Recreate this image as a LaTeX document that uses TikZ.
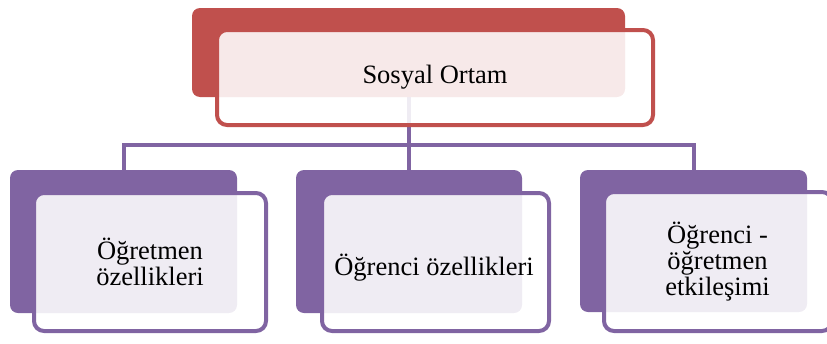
\documentclass[tikz,border=0pt]{standalone}
\usepackage{fontspec}
\setmainfont{Liberation Serif}
\definecolor{redc}{HTML}{C0504D}
\definecolor{purc}{HTML}{8064A2}
\begin{document}
\begin{tikzpicture}[x=1pt,y=-1pt,
  back/.style={rectangle, rounded corners=8pt, inner sep=0pt, outer sep=0pt, anchor=north west},
  front/.style={rectangle, rounded corners=10pt, inner sep=0pt, outer sep=0pt, anchor=north west,
    line width=4pt, fill=white, fill opacity=0.88},
  txt/.style={align=center, text=black, font=\fontsize{26.5}{26}\selectfont},
  conn/.style={draw=purc, line width=4pt}]
\useasboundingbox (0,0) rectangle (827,343);

% back panels (named first so the connectors can attach to them)
\coordinate (bus) at (0,145);
\node[back, minimum width=433pt, minimum height=89pt] (topback) at (192,8) {};
\node[back, minimum width=227pt, minimum height=143pt] (leftback) at (10,170) {};
\node[back, minimum width=226pt, minimum height=143pt] (midback) at (296,170) {};
\node[back, minimum width=227pt, minimum height=142pt] (rightback) at (580,170) {};

% connectors (drawn below the boxes)
\draw[conn] (topback.south) -- (topback.south |- bus);
\draw[conn] (leftback.north) |- (rightback.north |- bus) -- (rightback.north);
\draw[conn] (midback.north) -- (midback.north |- bus);

% top box
\fill[redc, rounded corners=8pt] (topback.north west) rectangle (topback.south east);
\node[front, draw=redc, minimum width=436pt, minimum height=95pt] (topfront) at (217,30) {};
\node[txt, anchor=base] (toptext) at ([yshift=-5.5pt]topfront.center) {Sosyal Ortam};

% left box
\fill[purc, rounded corners=8pt] (leftback.north west) rectangle (leftback.south east);
\node[front, draw=purc, minimum width=232pt, minimum height=138pt] (leftfront) at (34,193) {};
\node[txt] (lefttext) at (leftfront.center) {Öğretmen\\özellikleri};

% middle box
\fill[purc, rounded corners=8pt] (midback.north west) rectangle (midback.south east);
\node[front, draw=purc, minimum width=227pt, minimum height=138pt] (midfront) at (322,193) {};
\node[txt, anchor=base] (midtext) at ([xshift=-1.5pt, yshift=-13pt]midfront.center) {Öğrenci özellikleri};

% right box
\fill[purc, rounded corners=8pt] (rightback.north west) rectangle (rightback.south east);
\node[front, draw=purc, minimum width=228pt, minimum height=139pt] (rightfront) at (604,192) {};
\node[txt] (righttext) at ([xshift=-0.5pt]rightfront.center) {Öğrenci -\\öğretmen\\etkileşimi};
\end{tikzpicture}
\end{document}
